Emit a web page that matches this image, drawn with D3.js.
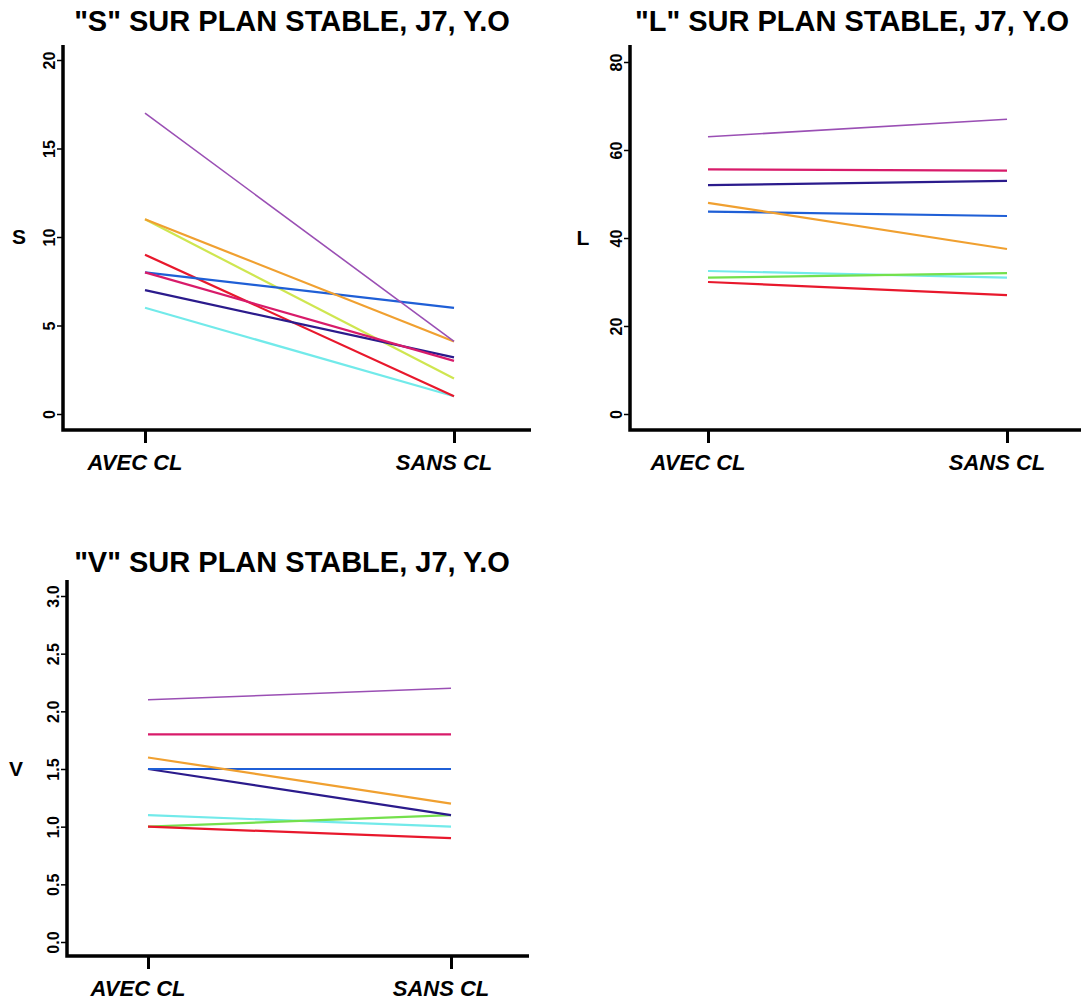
<!DOCTYPE html>
<html>
<head>
<meta charset="utf-8">
<script src="https://cdn.jsdelivr.net/npm/d3@7"></script>
<style>
	body { margin: 0; background: #fff; }
	svg { display: block; font-family: "Liberation Sans", Arial, sans-serif; }
	.title { font-weight: bold; font-size: 29px; }
	.ylab { font-weight: bold; font-size: 21px; }
	.tick text { font-weight: bold; font-size: 16px; fill: #000; }
	.xlab { font-weight: bold; font-style: italic; font-size: 22px; }
</style>
</head>
<body>
<svg width="1081" height="1003"></svg>
<script>
// categories on the x axis
var conditions = ['AVEC CL', 'SANS CL'];

// series names and colours (same subject in every panel)
var subjects = ['cyan', 'green', 'red', 'navy', 'blue', 'crimson', 'orange', 'purple'];
var subjectColors = ['#72eaea', '#74e04c', '#e8182c', '#2b1b8c', '#1f5fd6', '#d81b6a', '#f0a030', '#9a4fb4'];

// values [AVEC CL, SANS CL], in the order of subjects
var sValues = [[6, 1], [11, 2], [9, 1], [7, 3.2], [8, 6], [8, 3], [11, 4.1], [17, 4.1]];
var lValues = [[32.5, 31], [31, 32], [30, 27], [52, 53], [46, 45], [55.6, 55.3], [48, 37.5], [63, 67]];
var vValues = [[1.1, 1.0], [1.0, 1.1], [1.0, 0.9], [1.5, 1.1], [1.5, 1.5], [1.8, 1.8], [1.6, 1.2], [2.1, 2.2]];

// tick labels
var sTicks = [0, 5, 10, 15, 20];
var lTicks = [0, 20, 40, 60, 80];
var vTicks = [0, 0.5, 1, 1.5, 2, 2.5, 3];

var svg = d3.select('svg');

var panels = [
	{ title: '"S" SUR PLAN STABLE, J7, Y.O', label: 'S', values: sValues, ticks: sTicks, fmt: d3.format('d'),
		axisX: 63, top: 45, baseY: 430, right: 531, yRange: [414, 60], xRange: [145, 454], titleX: 292, titleY: 31, labelX: 19,
		colorOverride: { green: '#cfe650' } },
	{ title: '"L" SUR PLAN STABLE, J7, Y.O', label: 'L', values: lValues, ticks: lTicks, fmt: d3.format('d'),
		axisX: 630, top: 45, baseY: 430, right: 1081, yRange: [414, 62], xRange: [708, 1007], titleX: 852, titleY: 31, labelX: 583 },
	{ title: '"V" SUR PLAN STABLE, J7, Y.O', label: 'V', values: vValues, ticks: vTicks, fmt: d3.format('.1f'),
		axisX: 67, top: 580, baseY: 956, right: 529, yRange: [942, 596], xRange: [148, 451], titleX: 292, titleY: 572, labelX: 16 }
];

panels.forEach(function (p) {
	var y = d3.scaleLinear()
		.domain([p.ticks[0], p.ticks[p.ticks.length - 1]])
		.range(p.yRange);
	var x = d3.scalePoint()
		.domain(conditions)
		.range(p.xRange);

	var g = svg.append('g');

	g.append('text')
		.attr('class', 'title')
		.attr('x', p.titleX)
		.attr('y', p.titleY)
		.attr('text-anchor', 'middle')
		.text(p.title);

	// y axis
	var yAxis = g.append('g')
		.attr('transform', 'translate(' + p.axisX + ',0)')
		.call(d3.axisLeft(y).tickValues(p.ticks).tickFormat(p.fmt).tickSize(6));
	yAxis.select('.domain').remove();
	yAxis.selectAll('.tick line').attr('stroke', '#000').attr('stroke-width', 1.5);
	yAxis.selectAll('.tick text')
		.attr('transform', 'rotate(-90)')
		.attr('text-anchor', 'middle')
		.attr('x', 0)
		.attr('y', -8)
		.attr('dy', 0);

	// x axis
	var xAxis = g.append('g')
		.attr('transform', 'translate(0,' + p.baseY + ')')
		.call(d3.axisBottom(x).tickSize(13).tickFormat(''));
	xAxis.select('.domain').remove();
	xAxis.selectAll('.tick line').attr('stroke', '#000').attr('stroke-width', 3);

	conditions.forEach(function (c) {
		g.append('text')
			.attr('class', 'xlab')
			.attr('x', x(c) - 10)
			.attr('y', p.baseY + 40)
			.attr('text-anchor', 'middle')
			.text(c);
	});

	// L shaped frame
	g.append('path')
		.attr('d', 'M' + p.axisX + ',' + p.top + 'V' + p.baseY + 'H' + p.right)
		.attr('fill', 'none')
		.attr('stroke', '#000')
		.attr('stroke-width', 3.5);

	g.append('text')
		.attr('class', 'ylab')
		.attr('x', p.labelX)
		.attr('y', y((p.ticks[0] + p.ticks[p.ticks.length - 1]) / 2))
		.attr('dy', '0.35em')
		.attr('text-anchor', 'middle')
		.text(p.label);

	var line = d3.line()
		.x(function (d, i) { return x(conditions[i]); })
		.y(function (d) { return y(d); });

	g.selectAll('path.series')
		.data(p.values)
		.enter()
		.append('path')
		.attr('class', 'series')
		.attr('d', line)
		.attr('fill', 'none')
		.attr('stroke', function (d, i) {
			var name = subjects[i];
			return (p.colorOverride && p.colorOverride[name]) || subjectColors[i];
		})
		.attr('stroke-width', function (d, i) { return subjects[i] === 'purple' ? 1.6 : 2.2; });
});
</script>
</body>
</html>
